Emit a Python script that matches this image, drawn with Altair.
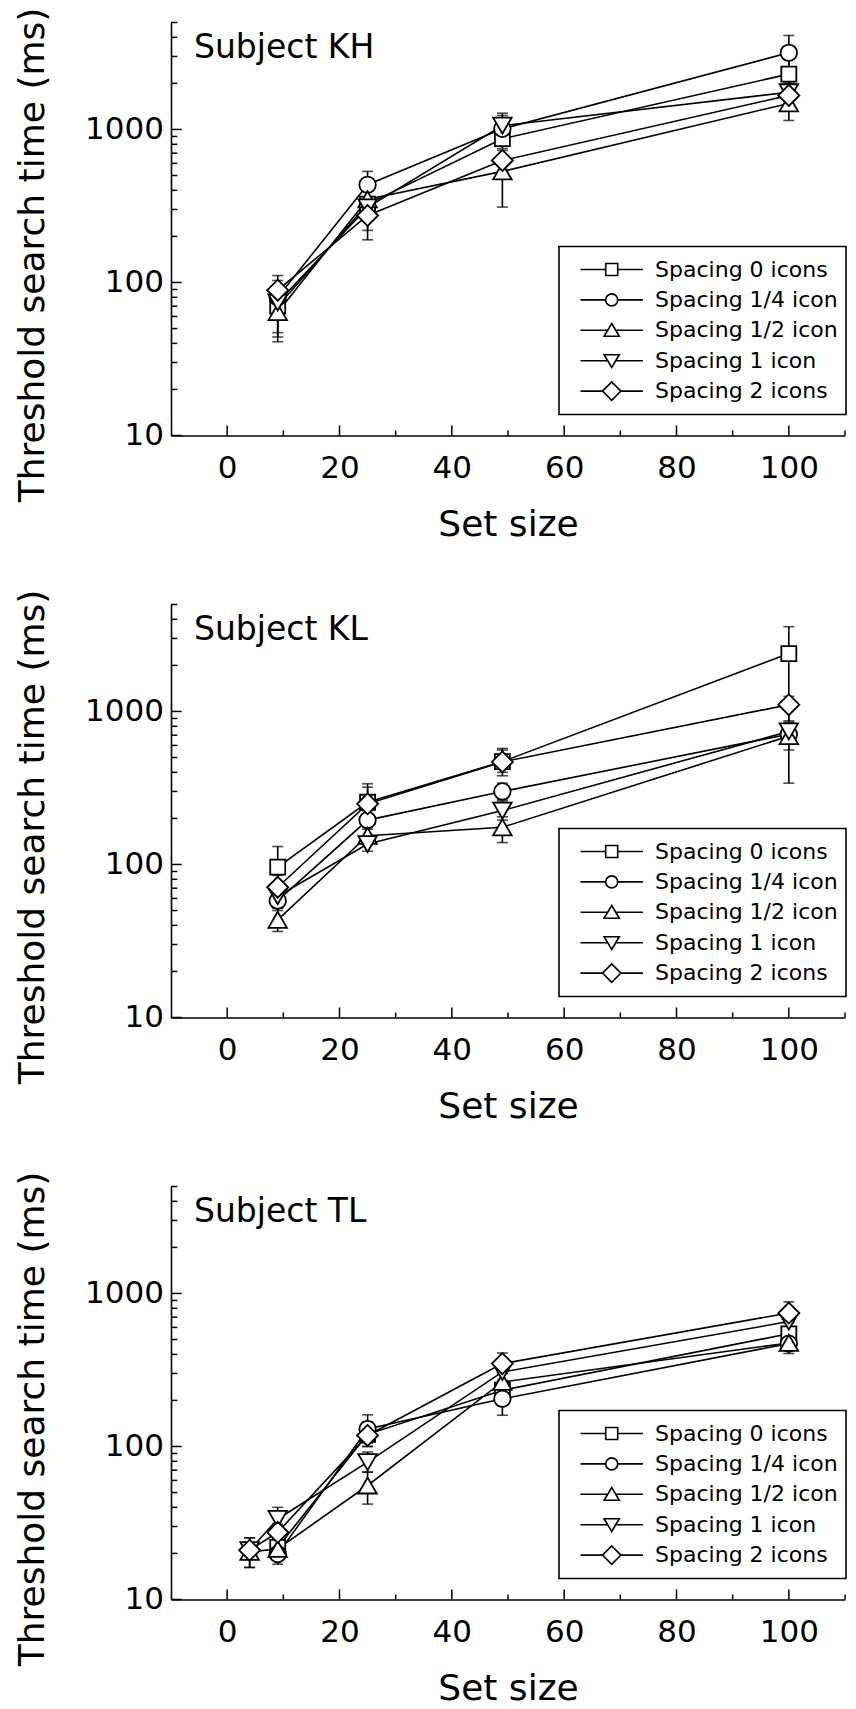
import altair as alt
import pandas as pd

SERIES = ["Spacing 0 icons", "Spacing 1/4 icon", "Spacing 1/2 icon", "Spacing 1 icon", "Spacing 2 icons"]
SUBJECTS = ["Subject KH", "Subject KL", "Subject TL"]

# ---------------- data ----------------
KH_X = [9, 25, 49, 100]
KH_Y = {
    "Spacing 0 icons": [70, 325, 870, 2300],
    "Spacing 1/4 icon": [80, 435, 1010, 3170],
    "Spacing 1/2 icon": [64, 350, 532, 1480],
    "Spacing 1 icon": [74, 310, 1060, 1750],
    "Spacing 2 icons": [89, 274, 627, 1670],
}
KH_LO = {
    "Spacing 0 icons": [44, 280, 750, 1900],
    "Spacing 1/4 icon": [68, 360, 800, 2400],
    "Spacing 1/2 icon": [41, 300, 311, 1145],
    "Spacing 1 icon": [47, 190, 900, 1400],
    "Spacing 2 icons": [75, 219, 540, 1400],
}
KH_HI = {
    "Spacing 0 icons": [85, 441, 1000, 3070],
    "Spacing 1/4 icon": [103, 532, 1234, 4115],
    "Spacing 1/2 icon": [78, 400, 620, 1700],
    "Spacing 1 icon": [88, 360, 1277, 2000],
    "Spacing 2 icons": [111, 330, 730, 2000],
}

KL_X = [9, 25, 49, 100]
KL_Y = {
    "Spacing 0 icons": [96, 255, 470, 2390],
    "Spacing 1/4 icon": [58, 195, 300, 710],
    "Spacing 1/2 icon": [43.5, 154, 175, 690],
    "Spacing 1 icon": [62, 136, 225, 740],
    "Spacing 2 icons": [71, 249, 468, 1107],
}
KL_LO = {
    "Spacing 0 icons": [75, 200, 400, 340],
    "Spacing 1/4 icon": [50, 170, 265, 620],
    "Spacing 1/2 icon": [36.5, 135, 139, 560],
    "Spacing 1 icon": [52, 122, 195, 634],
    "Spacing 2 icons": [60, 200, 380, 868],
}
KL_HI = {
    "Spacing 0 icons": [131, 337, 560, 3580],
    "Spacing 1/4 icon": [66, 225, 340, 800],
    "Spacing 1/2 icon": [52, 175, 205, 780],
    "Spacing 1 icon": [72, 150, 260, 850],
    "Spacing 2 icons": [85, 320, 573, 1255],
}

TL_X = [4, 9, 25, 49, 100]
TL_Y = {
    "Spacing 0 icons": [None, 21.9, 120, 233, 545],
    "Spacing 1/4 icon": [None, 19.8, 130, 205, 470],
    "Spacing 1/2 icon": [20.5, 21.4, 55.6, 264, 475],
    "Spacing 1 icon": [21, 33.6, 79, 307, 655],
    "Spacing 2 icons": [21, 27.5, 118, 348, 745],
}
TL_LO = {
    "Spacing 0 icons": [None, 19, 100, 210, 500],
    "Spacing 1/4 icon": [None, 17, 105, 160, 430],
    "Spacing 1/2 icon": [16.2, 18.5, 42, 230, 405],
    "Spacing 1 icon": [16.2, 28, 68, 270, 600],
    "Spacing 2 icons": [18.5, 24, 100, 300, 640],
}
TL_HI = {
    "Spacing 0 icons": [None, 25, 145, 260, 600],
    "Spacing 1/4 icon": [None, 23, 161, 245, 520],
    "Spacing 1/2 icon": [25.3, 24.5, 68, 300, 540],
    "Spacing 1 icon": [25.3, 40, 92, 345, 720],
    "Spacing 2 icons": [23.5, 31, 138, 408, 881],
}

X_LABELS = [0, 20, 40, 60, 80, 100]
X_MINOR = [10, 30, 50, 70, 90, 110]
Y_LABELS = [10, 100, 1000]
Y_MINOR = [20, 30, 40, 50, 60, 70, 80, 90, 200, 300, 400, 500, 600, 700, 800, 900, 2000, 3000, 4000, 5000]

# ---------------- style ----------------
FONT = "DejaVu Sans"
W, H = 674, 413
MARKER_SHAPE = {
    "Spacing 0 icons": "square",
    "Spacing 1/4 icon": "circle",
    "Spacing 1/2 icon": "triangle-up",
    "Spacing 1 icon": "triangle-down",
    "Spacing 2 icons": "diamond",
}
MARKER_SIZE = {
    "Spacing 0 icons": 225,
    "Spacing 1/4 icon": 272,
    "Spacing 1/2 icon": 342,
    "Spacing 1 icon": 342,
    "Spacing 2 icons": 441,
}
L = 0.78
LEGEND_PATHS = [
    f"M-{L},0H-0.15M0.15,0H{L}M-0.15,-0.15H0.15V0.15H-0.15Z",
    f"M-{L},0H-0.15M0.15,0H{L}M-0.15,0A0.15,0.15,0,1,1,0.15,0A0.15,0.15,0,1,1,-0.15,0Z",
    f"M-{L},0H-0.101M0.101,0H{L}M0,-0.17L0.19,0.15H-0.19Z",
    f"M-{L},0H-0.101M0.101,0H{L}M0,0.17L0.19,-0.15H-0.19Z",
    f"M-{L},0H-0.23M0.23,0H{L}M-0.23,0L0,-0.23L0.23,0L0,0.23Z",
]


def build_df(xs, ys, los, his):
    rows = []
    for s in SERIES:
        for i, x in enumerate(xs):
            if ys[s][i] is None:
                continue
            rows.append({"x": x, "y": ys[s][i], "lo": los[s][i], "hi": his[s][i],
                         "series": s, "shape": MARKER_SHAPE[s], "msize": MARKER_SIZE[s]})
    return pd.DataFrame(rows)


XS = alt.Scale(domain=[-10, 110], nice=False, zero=False)
YS = alt.Scale(type="log", domain=[10, 5000], nice=False)
XAXIS = alt.Axis(values=X_LABELS, format="d", ticks=False, grid=False, title="Set size",
                 labelPadding=17.5, titleY=100, titleBaseline="alphabetic")
YAXIS = alt.Axis(values=Y_LABELS, format="d", ticks=False, grid=False,
                 title="Threshold search time (ms)", labelPadding=7.5,
                 titleX=-128, titleY=232, titleBaseline="alphabetic")


def X(f):
    return alt.X(f, scale=XS, axis=XAXIS)


def Y(f):
    return alt.Y(f, scale=YS, axis=YAXIS)


def panel(subject, df):
    base = alt.Chart(df)
    lines = base.mark_line(color="black", strokeWidth=1.6).encode(x=X("x:Q"), y=Y("y:Q"), detail="series:N")
    ebar = base.mark_rule(color="black", strokeWidth=1.6).encode(x=X("x:Q"), y=Y("lo:Q"), y2="hi:Q")
    cap_lo = base.mark_tick(color="black", orient="horizontal", size=11, thickness=1.6).encode(
        x=X("x:Q"), y=Y("lo:Q"))
    cap_hi = base.mark_tick(color="black", orient="horizontal", size=11, thickness=1.6).encode(
        x=X("x:Q"), y=Y("hi:Q"))
    pts = base.mark_point(fill="white", stroke="black", strokeWidth=1.8, opacity=1, fillOpacity=1).encode(
        x=X("x:Q"), y=Y("y:Q"),
        shape=alt.Shape("shape:N", scale=None), size=alt.Size("msize:Q", scale=None))
    leg = base.mark_point(opacity=0).encode(
        x=X("x:Q"), y=Y("y:Q"),
        shape=alt.Shape("series:N", scale=alt.Scale(domain=SERIES, range=LEGEND_PATHS),
                        legend=alt.Legend(orient="none", legendX=388, legendY=224, title=None,
                                          padding=8, strokeColor="black", fillColor="white",
                                          symbolSize=6400, symbolStrokeWidth=1.6,
                                          symbolStrokeColor="black", symbolFillColor="white",
                                          symbolOpacity=1, symbolOffset=3.7, labelOffset=2.4,
                                          labelFont=FONT, labelFontSize=22, labelColor="black",
                                          labelLimit=400, clipHeight=30, rowPadding=0.4)))

    ymaj = alt.Chart(pd.DataFrame({"v": Y_LABELS})).mark_rule(color="black", strokeWidth=1.5).encode(
        y=Y("v:Q"), x=alt.value(0), x2=alt.value(10.7))
    ymin = alt.Chart(pd.DataFrame({"v": Y_MINOR})).mark_rule(color="black", strokeWidth=1.5).encode(
        y=Y("v:Q"), x=alt.value(0), x2=alt.value(6.3))
    xmaj = alt.Chart(pd.DataFrame({"v": X_LABELS})).mark_rule(color="black", strokeWidth=1.5).encode(
        x=X("v:Q"), y=alt.value(H), y2=alt.value(H - 10))
    xmin = alt.Chart(pd.DataFrame({"v": X_MINOR})).mark_rule(color="black", strokeWidth=1.5).encode(
        x=X("v:Q"), y=alt.value(H), y2=alt.value(H - 5))
    title = alt.Chart(pd.DataFrame({"t": [subject]})).mark_text(
        align="left", baseline="alphabetic", font=FONT, fontSize=33, color="black").encode(
        x=alt.value(23), y=alt.value(35), text="t:N")

    return alt.layer(lines, ebar, cap_lo, cap_hi, pts, leg, ymaj, ymin, xmaj, xmin, title).resolve_scale(
        shape="independent", size="independent").properties(width=W, height=H)


p1 = panel(SUBJECTS[0], build_df(KH_X, KH_Y, KH_LO, KH_HI))
p2 = panel(SUBJECTS[1], build_df(KL_X, KL_Y, KL_LO, KL_HI))
p3 = panel(SUBJECTS[2], build_df(TL_X, TL_Y, TL_LO, TL_HI))

chart = alt.vconcat(p1, p2, p3, spacing=46).resolve_scale(shape="independent").resolve_legend(
    shape="independent").properties(
    padding={"left": 13, "top": 6.5, "right": 0, "bottom": 0}, background="white"
).configure_view(stroke=None).configure_axis(
    domainColor="black", domainWidth=1.6, labelColor="black", labelFont=FONT, labelFontSize=31,
    titleFont=FONT, titleFontSize=36, titleFontWeight="normal", titleColor="black"
).configure_legend(strokeWidth=1.6)

chart.save("out.html", embed_options={"renderer": "svg", "actions": False})
